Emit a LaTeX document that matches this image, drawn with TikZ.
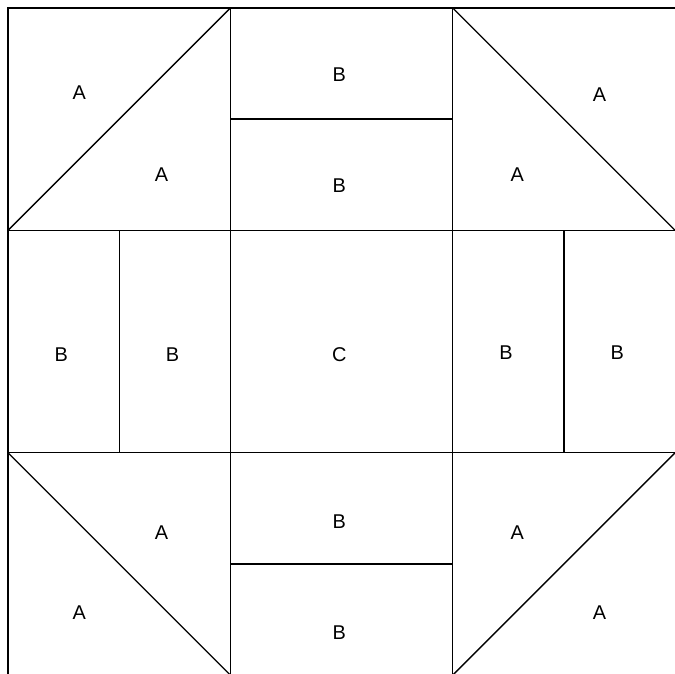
\documentclass[tikz,border=0pt]{standalone}
\usepackage{fontspec}
\setmainfont{Liberation Sans}
\usepackage{tikz}

\begin{document}
\begin{tikzpicture}[x=4cm,y=4cm,line width=0.7pt,every node/.style={font=\fontsize{10.2}{12}\selectfont}]
\useasboundingbox (-0.036,0.005) rectangle (2.995,3.036);

\draw (0,0) -- (0,3) -- (3,3);
\draw (1,0) -- (1,3);
\draw (2,0) -- (2,3);
\draw (0,1) -- (3,1);
\draw (0,2) -- (3,2);
\draw (1,2.5) -- (2,2.5);
\draw (1,0.5) -- (2,0.5);
\draw (0.5,1) -- (0.5,2);
\draw (2.5,1) -- (2.5,2);
\draw (0,2) -- (1,3);
\draw (2,3) -- (3,2);
\draw (0,1) -- (1,0);
\draw (2,0) -- (3,1);

\node (a1) at (0.32,2.62) {A};
\node (a2) at (0.69,2.25) {A};
\node (b1) at (1.49,2.70) {B};
\node (b2) at (1.49,2.20) {B};
\node (a3) at (2.66,2.61) {A};
\node (a4) at (2.29,2.25) {A};
\node (b3) at (0.24,1.44) {B};
\node (b4) at (0.74,1.44) {B};
\node (c) at (1.49,1.44) {C};
\node (b5) at (2.24,1.45) {B};
\node (b6) at (2.74,1.45) {B};
\node (a5) at (0.69,0.64) {A};
\node (a6) at (0.32,0.28) {A};
\node (b7) at (1.49,0.69) {B};
\node (b8) at (1.49,0.19) {B};
\node (a7) at (2.29,0.64) {A};
\node (a8) at (2.66,0.28) {A};
\end{tikzpicture}
\end{document}
